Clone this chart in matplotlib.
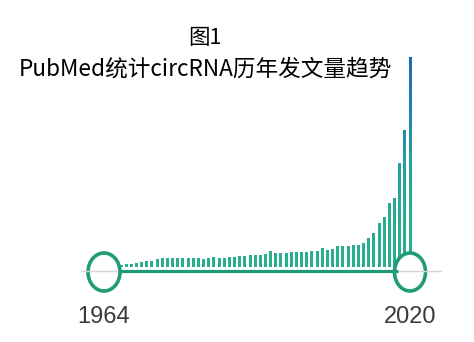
import matplotlib.pyplot as plt
import numpy as np
from matplotlib.colors import LinearSegmentedColormap
from matplotlib.patches import Ellipse

plt.rcParams['font.family'] = ['Noto Sans CJK SC', 'DejaVu Sans']

# yearly article counts
years = np.arange(1964, 2021)
counts = [20, 25, 30, 40, 50, 60, 60, 80, 90, 90,
          90, 85, 90, 90, 85, 90, 80, 90, 95, 90,
          90, 100, 100, 110, 110, 120, 120, 120, 130, 160,
          140, 140, 140, 145, 150, 150, 150, 155, 160, 190,
          170, 180, 210, 210, 210, 220, 220, 240, 290, 340,
          440, 500, 640, 690, 1040, 1370, 2100]
year_labels = ['1964', '2020']
title_lines = ['图1', 'PubMed统计circRNA历年发文量趋势']

W, H = 474, 342
fig = plt.figure(figsize=(W / 100, H / 100), dpi=100)

# bar axes: px 80..440 horizontally, 40..290 from top vertically
ax = fig.add_axes([80 / W, (H - 290) / H, 360 / W, 250 / H])
step = (410 - 121) / (years[-1] - years[0])
ax.axis('off')

cmap = LinearSegmentedColormap.from_list(
    'bars', [(0, '#2bb08e'), (0.3, '#28ab93'), (0.5, '#25a0a4'),
             (0.7, '#2288b2'), (1, '#1e6ab5')])
vmax = max(counts)
bw = 0.58
for yr, c in zip(years, counts):
    grad = np.linspace(0, c, 60).reshape(-1, 1)
    ax.imshow(grad, extent=(yr - bw / 2, yr + bw / 2, 0, c), origin='lower',
              cmap=cmap, vmin=0, vmax=vmax, aspect='auto',
              interpolation='bilinear')
ax.set_xlim(years[0] - 41 / step, years[-1] + 30 / step)
ax.set_ylim(-230, 2270)

# slider overlay in pixel coordinates
ov = fig.add_axes([0, 0, 1, 1], zorder=5)
ov.set_xlim(0, W)
ov.set_ylim(H, 0)
ov.axis('off')
green = '#1f9c77'
ov.plot([81, 441], [271, 271], color='#d6d6d6', lw=1)
ov.plot([118, 398], [270.5, 270.5], color=green, lw=2.3, solid_capstyle='butt')
for cx, w in [(104, 32), (410, 31)]:
    ov.add_patch(Ellipse((cx, 272), w, 38, facecolor='white',
                         edgecolor=green, lw=2.6))
for cx, lab in zip([104, 410], year_labels):
    ov.text(cx, 317, lab, ha='center', va='center', fontsize=17,
            color='#3a3a3a',
            family=['Liberation Sans Narrow', 'Liberation Sans'])

ov.text(205, 38, title_lines[0], ha='center', va='center', fontsize=15.5,
        color='black')
ov.text(205, 69, title_lines[1], ha='center', va='center', fontsize=16.3,
        color='black')

fig.savefig('out.png', dpi=100)
